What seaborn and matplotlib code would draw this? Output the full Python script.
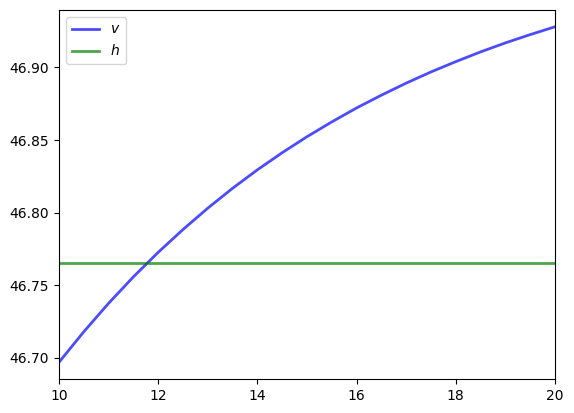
import seaborn as sns
import matplotlib.pyplot as plt
import pandas as pd

# values
x_vals = [10.0, 10.5, 11.0, 11.5, 12.0, 12.5, 13.0, 13.5, 14.0, 14.5, 15.0,
          15.5, 16.0, 16.5, 17.0, 17.5, 18.0, 18.5, 19.0, 19.5, 20.0]
v_vals = [46.6970, 46.7180, 46.7376, 46.7558, 46.7727, 46.7884, 46.8031,
          46.8168, 46.8295, 46.8413, 46.8523, 46.8625, 46.8721, 46.8809,
          46.8892, 46.8969, 46.9040, 46.9107, 46.9169, 46.9226, 46.9280]
h_val = 46.765

data = pd.DataFrame({'x': x_vals, 'v': v_vals, 'h': [h_val] * len(x_vals)})

fig, ax = plt.subplots(figsize=(5.74, 4.13), dpi=100)
fig.subplots_adjust(left=0.1028, right=0.9669, bottom=0.0823, top=0.9758)

sns.lineplot(data=data, x='x', y='v', ax=ax, color='b', alpha=0.7, linewidth=2, label='$v$')
sns.lineplot(data=data, x='x', y='h', ax=ax, color='g', alpha=0.7, linewidth=2, label='$h$')

ax.set_xlim(10, 20)
ax.set_xlabel('')
ax.set_ylabel('')
ax.legend(loc='upper left')

plt.savefig('out.png')
